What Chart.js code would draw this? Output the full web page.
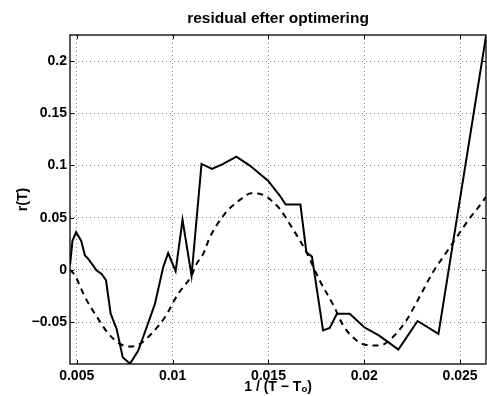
<!DOCTYPE html>
<html>
<head>
<meta charset="utf-8">
<title>residual efter optimering</title>
<script src="https://cdn.jsdelivr.net/npm/chart.js@4"></script>
<style>
    html, body { margin: 0; padding: 0; background: #fff; }
    #wrap { width: 487px; height: 396px; }
</style>
</head>
<body>
<div id="wrap"><canvas id="residualChart"></canvas></div>
<script>
// residual (solid line)
const residualX = [0.00465, 0.00478, 0.00497, 0.00523, 0.00543, 0.0056, 0.00586, 0.00604, 0.0063, 0.00653,
    0.00677, 0.00708, 0.0074, 0.00778, 0.00821, 0.00865, 0.00908, 0.00951, 0.00977, 0.01016,
    0.01052, 0.01099, 0.01151, 0.01206, 0.01264, 0.01333, 0.01403, 0.01498, 0.01559, 0.0159,
    0.01667, 0.01698, 0.01727, 0.01785, 0.0182, 0.01857, 0.01924, 0.02, 0.02078, 0.02178,
    0.02278, 0.02387, 0.02635];
const residualR = [0.004, 0.028, 0.036, 0.028, 0.0137, 0.0105, 0.004, -0.0007, -0.004, -0.010,
    -0.042, -0.0565, -0.0837, -0.090, -0.0773, -0.055, -0.0326, 0.0025, 0.016, -0.0013,
    0.048, -0.0055, 0.1015, 0.0967, 0.1015, 0.1085, 0.0999, 0.0855, 0.0712, 0.0626,
    0.0626, 0.0169, 0.0127, -0.058, -0.0556, -0.042, -0.042, -0.055, -0.063, -0.0764,
    -0.049, -0.0613, 0.224];

// dashed curve
const curveX = [0.00465, 0.00491, 0.00543, 0.00612, 0.00665, 0.00726, 0.00778, 0.0083, 0.00891, 0.0096,
    0.01029, 0.01099, 0.01125, 0.0116, 0.01194, 0.01272, 0.01351, 0.01411, 0.01481, 0.01524,
    0.01559, 0.01628, 0.01698, 0.01767, 0.01845, 0.01889, 0.0194, 0.0201, 0.0208, 0.0214,
    0.02219, 0.02288, 0.02358, 0.02435, 0.02548, 0.02609, 0.02635];
const curveR = [0, -0.0055, -0.026, -0.047, -0.061, -0.071, -0.0735, -0.071, -0.061, -0.0454,
    -0.023, -0.0055, 0.0057, 0.0153, 0.031, 0.0536, 0.067, 0.0734, 0.0712, 0.065,
    0.0584, 0.039, 0.017, -0.010, -0.036, -0.053, -0.0645, -0.0719, -0.0725, -0.066,
    -0.0486, -0.026, -0.0023, 0.0185, 0.0489, 0.0632, 0.070];

const xTicks = [0.005, 0.01, 0.015, 0.02, 0.025];
const yTicks = [-0.05, 0, 0.05, 0.1, 0.15, 0.2];
const xTickLabels = ['0.005', '0.01', '0.015', '0.02', '0.025'];
const yTickLabels = ['\u22120.05', '0', '0.05', '0.1', '0.15', '0.2'];

const chartTitle = 'residual efter optimering';
const xLabel = '1 / (T \u2212 T\u2092)';
const yLabel = 'r(T)';

const fontFamily = '"Liberation Sans", Arial, Helvetica, sans-serif';
Chart.defaults.font.family = fontFamily;
Chart.defaults.font.weight = 'bold';
Chart.defaults.font.size = 14;
Chart.defaults.color = '#000';

// title over the plot area + box frame with inward ticks (matlab look)
const matlabFrame = {
    id: 'matlabFrame',
    afterDatasetsDraw(chart) {
        const { ctx, chartArea: a, scales: { x, y } } = chart;
        ctx.save();
        ctx.strokeStyle = '#000';
        ctx.lineWidth = 1;
        ctx.beginPath();
        xTicks.forEach(v => {
            const px = Math.round(x.getPixelForValue(v)) + 0.5;
            ctx.moveTo(px, a.bottom); ctx.lineTo(px, a.bottom - 4);
            ctx.moveTo(px, a.top); ctx.lineTo(px, a.top + 4);
        });
        yTicks.forEach(v => {
            const py = Math.round(y.getPixelForValue(v)) + 0.5;
            ctx.moveTo(a.left, py); ctx.lineTo(a.left + 4, py);
            ctx.moveTo(a.right, py); ctx.lineTo(a.right - 4, py);
        });
        ctx.stroke();
        ctx.lineWidth = 1.3;
        ctx.strokeRect(a.left, a.top, a.right - a.left, a.bottom - a.top);

        ctx.fillStyle = '#000';
        ctx.font = 'bold 15.5px ' + fontFamily;
        ctx.textAlign = 'center';
        ctx.textBaseline = 'alphabetic';
        ctx.fillText(chartTitle, (a.left + a.right) / 2, 23);
        ctx.restore();
    }
};

const ctx = document.getElementById('residualChart').getContext('2d');
new Chart(ctx, {
    type: 'line',
    data: {
        datasets: [
            {
                label: 'residual',
                data: residualX.map((v, i) => ({ x: v, y: residualR[i] })),
                borderColor: '#000',
                borderWidth: 2,
                pointRadius: 0,
                tension: 0,
                fill: false
            },
            {
                label: 'anpassning',
                data: curveX.map((v, i) => ({ x: v, y: curveR[i] })),
                borderColor: '#000',
                borderWidth: 2,
                borderDash: [6, 5],
                pointRadius: 0,
                cubicInterpolationMode: 'monotone',
                fill: false
            }
        ]
    },
    options: {
        responsive: true,
        maintainAspectRatio: false,
        animation: false,
        layout: { padding: { top: 35, right: 1, left: 0, bottom: 0 } },
        plugins: {
            legend: { display: false },
            tooltip: { enabled: false },
            title: { display: false }
        },
        scales: {
            x: {
                type: 'linear',
                min: 0.00465,
                max: 0.02635,
                afterBuildTicks: scale => { scale.ticks = xTicks.map(v => ({ value: v })); },
                afterFit: scale => { scale.height = 32; },
                ticks: {
                    padding: 4,
                    maxRotation: 0,
                    autoSkip: false,
                    callback: (value) => xTickLabels[xTicks.indexOf(value)] ?? ''
                },
                grid: { color: 'rgba(0,0,0,0.5)', lineWidth: 1, drawTicks: false },
                border: { display: false, dash: [1, 3] },
                title: {
                    display: true,
                    text: xLabel,
                    font: { size: 14, weight: 'bold' },
                    padding: { top: 0, bottom: 0 }
                }
            },
            y: {
                type: 'linear',
                min: -0.0902,
                max: 0.225,
                afterBuildTicks: scale => { scale.ticks = yTicks.map(v => ({ value: v })); },
                afterFit: scale => { scale.width = 70; },
                ticks: {
                    padding: 3,
                    autoSkip: false,
                    callback: (value) => yTickLabels[yTicks.indexOf(value)] ?? ''
                },
                grid: { color: 'rgba(0,0,0,0.5)', lineWidth: 1, drawTicks: false },
                border: { display: false, dash: [1, 3] },
                title: {
                    display: true,
                    text: yLabel,
                    font: { size: 14, weight: 'bold' },
                    padding: { top: 15, bottom: 0 }
                }
            }
        }
    },
    plugins: [matlabFrame]
});
</script>
</body>
</html>
